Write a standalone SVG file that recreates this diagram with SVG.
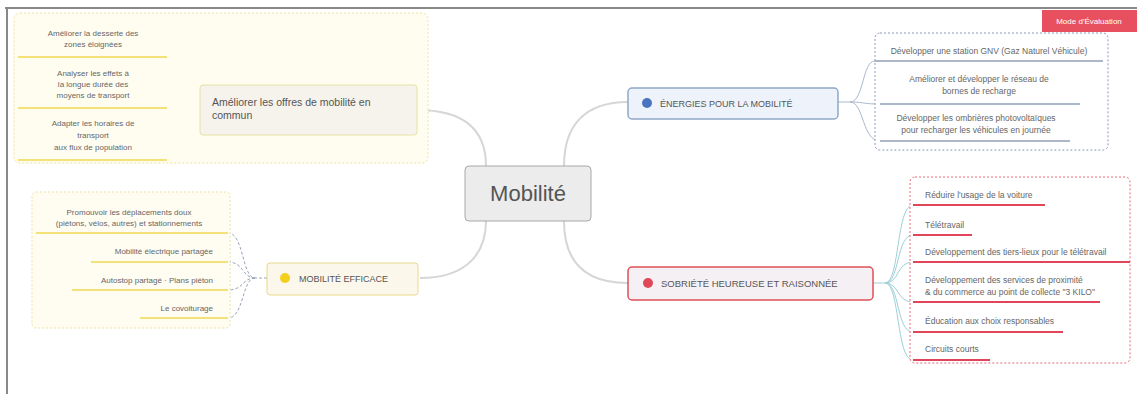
<svg xmlns="http://www.w3.org/2000/svg" width="1137" height="394" viewBox="0 0 1137 394">
<style>
text{font-family:"Liberation Sans",Arial,sans-serif;fill:#666}
.sm{font-size:8px}
.md{font-size:8.5px}
.main{font-size:9.5px;fill:#555}
.conn{fill:none;stroke:#d6d6d6;stroke-width:2}
.brY{fill:none;stroke:#b9bde0;stroke-width:1}
.brB{fill:none;stroke:#a9b8cc;stroke-width:1}
.brR{fill:none;stroke:#9fcfd8;stroke-width:1}
.brG{fill:none;stroke:#9aa3b5;stroke-width:1;stroke-dasharray:3 2}
.ulY{stroke:#f0d850;stroke-width:1.5}
.ulB{stroke:#8fa0b8;stroke-width:1.5}
.ulR{stroke:#e0455a;stroke-width:2}
</style>
<rect x="0" y="0" width="1137" height="394" fill="#fff"/>
<line x1="5" y1="8" x2="1137" y2="8" stroke="#888" stroke-width="2"/>
<line x1="7" y1="8" x2="7" y2="394" stroke="#888" stroke-width="2"/>

<g id="tag">
<rect x="1042" y="10" width="95" height="22" fill="#e8505f"/>
<text x="1089" y="24" text-anchor="middle" style="font-size:8px;fill:#fff">Mode d'Évaluation</text>
</g>

<g id="connectors">
<path class="conn" d="M417,110 C470,110 486,135 486,166"/>
<path class="conn" d="M420,278 C470,278 486,250 486,221"/>
<path class="conn" d="M564,166 C564,125 585,102 628,102"/>
<path class="conn" d="M564,221 C564,262 585,283 628,283"/>
<path class="brY" d="M200,110 C184,110 186,57 167,57 M200,110 C184,110 186,108 167,108 M200,110 C184,110 186,160 167,160"/>
<path class="brG" d="M267,278 L255,278 C242,278 244,233 228,233 M255,278 C242,278 244,262 228,262 M255,278 C242,278 244,290 228,290 M255,278 C242,278 244,318 228,318"/>
<path class="brB" d="M838,102 L850,102 C864,102 862,61 875,61 M850,102 C864,102 862,104 880,104 M850,102 C864,102 862,141 880,141"/>
<path class="brR" d="M873,283 L885,283 C900,283 896,205 913,205 M885,283 C900,283 896,235 913,235 M885,283 C900,283 896,262 913,262 M885,283 C900,283 896,302 913,302 M885,283 C900,283 896,332 913,332 M885,283 C900,283 896,360 913,360"/>
</g>

<g id="group-left-top">
<rect x="14" y="13" width="414" height="150" rx="6" fill="#fffdf0" stroke="#eee2a0" stroke-dasharray="2 2"/>
</g>
<g id="n-lt1">
<text class="sm" x="93" y="36" text-anchor="middle">Améliorer la desserte des</text>
<text class="sm" x="93" y="47" text-anchor="middle">zones éloignées</text>
<line class="ulY" x1="18" y1="57" x2="167" y2="57"/>
</g>
<g id="n-lt2">
<text class="sm" x="93" y="76" text-anchor="middle">Analyser les effets à</text>
<text class="sm" x="93" y="87" text-anchor="middle">la longue durée des</text>
<text class="sm" x="93" y="98" text-anchor="middle">moyens de transport</text>
<line class="ulY" x1="18" y1="108" x2="167" y2="108"/>
</g>
<g id="n-lt3">
<text class="sm" x="93" y="126" text-anchor="middle">Adapter les horaires de</text>
<text class="sm" x="93" y="138" text-anchor="middle">transport</text>
<text class="sm" x="93" y="150" text-anchor="middle">aux flux de population</text>
<line class="ulY" x1="18" y1="160" x2="167" y2="160"/>
</g>
<g id="n-ameliorer">
<rect x="200" y="85" width="217" height="50" rx="3" fill="#f5f3ec" stroke="#e6e2a8"/>
<text x="212" y="106" style="font-size:10.5px;fill:#555">Améliorer les offres de mobilité en</text>
<text x="212" y="119" style="font-size:10.5px;fill:#555">commun</text>
</g>

<g id="group-left-bottom">
<rect x="32" y="192" width="198" height="136" rx="4" fill="#fffdf2" stroke="#eee2a0" stroke-dasharray="2 2"/>
</g>
<g id="n-lb1">
<text class="sm" x="129" y="215" text-anchor="middle">Promouvoir les déplacements doux</text>
<text class="sm" x="129" y="226" text-anchor="middle">(piétons, vélos, autres) et stationnements</text>
<line class="ulY" x1="36" y1="233" x2="228" y2="233"/>
</g>
<g id="n-lb2">
<text class="sm" x="213" y="254" text-anchor="end">Mobilité électrique partagée</text>
<line class="ulY" x1="91" y1="262" x2="228" y2="262"/>
</g>
<g id="n-lb3">
<text class="sm" x="213" y="283" text-anchor="end">Autostop partagé · Plans piéton</text>
<line class="ulY" x1="72" y1="290" x2="228" y2="290"/>
</g>
<g id="n-lb4">
<text class="sm" x="213" y="311" text-anchor="end">Le covoiturage</text>
<line class="ulY" x1="140" y1="318" x2="228" y2="318"/>
</g>
<g id="n-mobilite-efficace">
<rect x="267" y="263" width="151" height="32" rx="3" fill="#fbf7ea" stroke="#e8d98a"/>
<circle cx="285" cy="278" r="5" fill="#f2cf1c"/>
<text class="main" x="299" y="282" style="font-size:9px">MOBILITÉ EFFICACE</text>
</g>

<g id="n-center">
<rect x="465" y="166" width="126" height="55" rx="4" fill="#ececec" stroke="#a8a8a8"/>
<text x="528" y="201" text-anchor="middle" style="font-size:22px;fill:#555">Mobilité</text>
</g>

<g id="n-energies">
<rect x="628" y="88" width="210" height="31" rx="4" fill="#eef3fb" stroke="#8fa8c8" stroke-width="1.5"/>
<circle cx="647" cy="103" r="5" fill="#4a74c0"/>
<text class="main" x="660" y="107" style="font-size:9px">ÉNERGIES POUR LA MOBILITÉ</text>
</g>
<g id="group-right-top">
<rect x="875" y="33" width="233" height="117" rx="5" fill="#fff" stroke="#8a9ab8" stroke-dasharray="2 2"/>
</g>
<g id="n-rt1">
<text class="md" x="989" y="54" text-anchor="middle">Développer une station GNV (Gaz Naturel Véhicule)</text>
<line class="ulB" x1="875" y1="61" x2="1103" y2="61"/>
</g>
<g id="n-rt2">
<text class="md" x="979" y="82" text-anchor="middle">Améliorer et développer le réseau de</text>
<text class="md" x="979" y="94" text-anchor="middle">bornes de recharge</text>
<line class="ulB" x1="880" y1="104" x2="1080" y2="104"/>
</g>
<g id="n-rt3">
<text class="md" x="976" y="121" text-anchor="middle">Développer les ombrières photovoltaïques</text>
<text class="md" x="976" y="133" text-anchor="middle">pour recharger les véhicules en journée</text>
<line class="ulB" x1="880" y1="141" x2="1070" y2="141"/>
</g>

<g id="n-sobriete">
<rect x="628" y="267" width="245" height="33" rx="4" fill="#f5f0f3" stroke="#e0505a" stroke-width="1.5"/>
<circle cx="648" cy="283" r="5" fill="#e04858"/>
<text class="main" x="661" y="287">SOBRIÉTÉ HEUREUSE ET RAISONNÉE</text>
</g>
<g id="group-right-bottom">
<rect x="910" y="177" width="220" height="186" rx="5" fill="#fff" stroke="#e86a78" stroke-dasharray="2 2"/>
</g>
<g id="n-rb1">
<text class="md" x="925" y="198">Réduire l'usage de la voiture</text>
<line class="ulR" x1="913" y1="205" x2="1045" y2="205"/>
</g>
<g id="n-rb2">
<text class="md" x="925" y="228">Télétravail</text>
<line class="ulR" x1="913" y1="235" x2="972" y2="235"/>
</g>
<g id="n-rb3">
<text class="md" x="925" y="255">Développement des tiers-lieux pour le télétravail</text>
<line class="ulR" x1="913" y1="262" x2="1130" y2="262"/>
</g>
<g id="n-rb4">
<text class="md" x="925" y="283">Développement des services de proximité</text>
<text class="md" x="925" y="295">&amp; du commerce au point de collecte "3 KILO"</text>
<line class="ulR" x1="913" y1="302" x2="1100" y2="302"/>
</g>
<g id="n-rb5">
<text class="md" x="925" y="324">Éducation aux choix responsables</text>
<line class="ulR" x1="913" y1="332" x2="1063" y2="332"/>
</g>
<g id="n-rb6">
<text class="md" x="925" y="352">Circuits courts</text>
<line class="ulR" x1="913" y1="360" x2="990" y2="360"/>
</g>
</svg>
